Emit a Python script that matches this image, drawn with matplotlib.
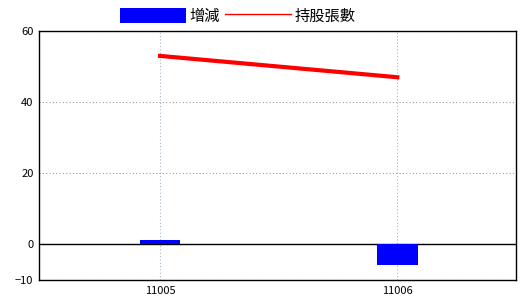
import matplotlib
matplotlib.use("Agg")
import matplotlib.pyplot as plt
from matplotlib.patches import Patch
from matplotlib.lines import Line2D

plt.rcParams['font.family'] = ['Noto Sans CJK TC', 'DejaVu Sans']

periods = ["11005", "11006"]
change = [1.2, -5.8]
holdings = [53, 47]

fig = plt.figure(figsize=(5.2, 3.0), dpi=100)
ax = fig.add_axes([39/520, 1 - 280/300, 477/520, 249/300])

x = list(range(len(periods)))
ax.bar(x, change, width=0.17, color="#0000ff", zorder=3)
ax.plot(x, holdings, color="#ff0000", linewidth=3, zorder=4)
ax.axhline(0, color="black", linewidth=1, zorder=2)

ax.set_xlim(-0.51, 1.5)
ax.set_ylim(-10, 60)
ax.set_yticks([-10, 0, 20, 40, 60])
ax.set_xticks(x)
ax.set_xticklabels(periods)
ax.tick_params(axis="both", labelsize=8, length=0, pad=4)

ax.yaxis.grid(True, color="#a0a0a0", linestyle=(0, (1, 2)), linewidth=0.8)
ax.xaxis.grid(True, color="#a8b8c8", linestyle=(0, (1, 2)), linewidth=0.8)
ax.set_axisbelow(True)
for s in ax.spines.values():
    s.set_color("black")
    s.set_linewidth(1)

handles = [Patch(facecolor="#0000ff", edgecolor="none"),
           Line2D([0], [0], color="#ff0000", linewidth=1)]
fig.legend(handles, ["增減", "持股張數"], loc="center", bbox_to_anchor=(0.457, 1 - 16/300),
           ncol=2, frameon=False, fontsize=11, handlelength=4.3, handleheight=1.1,
           handletextpad=0.2, columnspacing=0.4, borderaxespad=0)

fig.savefig("out.png", dpi=100)
